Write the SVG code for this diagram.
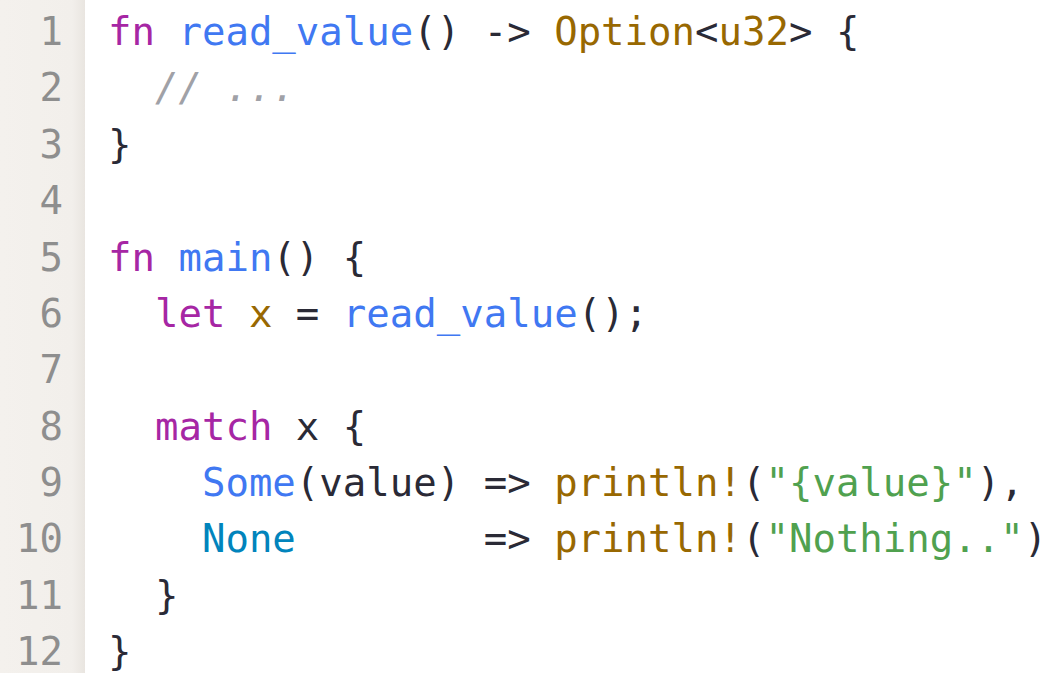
<svg xmlns="http://www.w3.org/2000/svg" width="1048" height="673" viewBox="0 0 1048 673">
  <defs>
    <linearGradient id="gshade" x1="0" y1="0" x2="1" y2="0">
      <stop offset="0" stop-color="#f4f1ed"/>
      <stop offset="0.85" stop-color="#f2efeb"/>
      <stop offset="1" stop-color="#e9e5e0"/>
    </linearGradient>
  </defs>
  <style>
    text { font-family: "DejaVu Sans Mono", "Liberation Mono", monospace; font-size: 39px; fill: #2a2a36; white-space: pre; }
    .ln { fill: #8e8e8e; text-anchor: end; }
    .kw { fill: #a626a4; }
    .fn { fill: #4078f2; }
    .ty { fill: #986801; }
    .str { fill: #50a14f; }
    .cm { fill: #a0a1a7; font-style: italic; }
    .en { fill: #0184bc; }
  </style>
  <rect x="0" y="0" width="1048" height="673" fill="#ffffff"/>
  <g id="gutter">
    <rect x="0" y="0" width="85" height="673" fill="url(#gshade)"/>
    <text class="ln" x="63" y="45">1</text>
    <text class="ln" x="63" y="101.4">2</text>
    <text class="ln" x="63" y="157.7">3</text>
    <text class="ln" x="63" y="214.1">4</text>
    <text class="ln" x="63" y="270.5">5</text>
    <text class="ln" x="63" y="326.8">6</text>
    <text class="ln" x="63" y="383.2">7</text>
    <text class="ln" x="63" y="439.5">8</text>
    <text class="ln" x="63" y="495.9">9</text>
    <text class="ln" x="63" y="552.3">10</text>
    <text class="ln" x="63" y="608.6">11</text>
    <text class="ln" x="63" y="665">12</text>
  </g>
  <g id="code" xml:space="preserve">
    <text x="108" y="45"><tspan class="kw">fn</tspan> <tspan class="fn">read_value</tspan>() -&gt; <tspan class="ty">Option</tspan>&lt;<tspan class="ty">u32</tspan>&gt; {</text>
    <text x="108" y="101.4">  <tspan class="cm">// ...</tspan></text>
    <text x="108" y="157.7">}</text>
    <text x="108" y="270.5"><tspan class="kw">fn</tspan> <tspan class="fn">main</tspan>() {</text>
    <text x="108" y="326.8">  <tspan class="kw">let</tspan> <tspan class="ty">x</tspan> = <tspan class="fn">read_value</tspan>();</text>
    <text x="108" y="439.5">  <tspan class="kw">match</tspan> x {</text>
    <text x="108" y="495.9">    <tspan class="fn">Some</tspan>(value) =&gt; <tspan class="ty">println!</tspan>(<tspan class="str">"{value}"</tspan>),</text>
    <text x="108" y="552.3">    <tspan class="en">None</tspan>        =&gt; <tspan class="ty">println!</tspan>(<tspan class="str">"Nothing.."</tspan>)</text>
    <text x="108" y="608.6">  }</text>
    <text x="108" y="665">}</text>
  </g>
</svg>
